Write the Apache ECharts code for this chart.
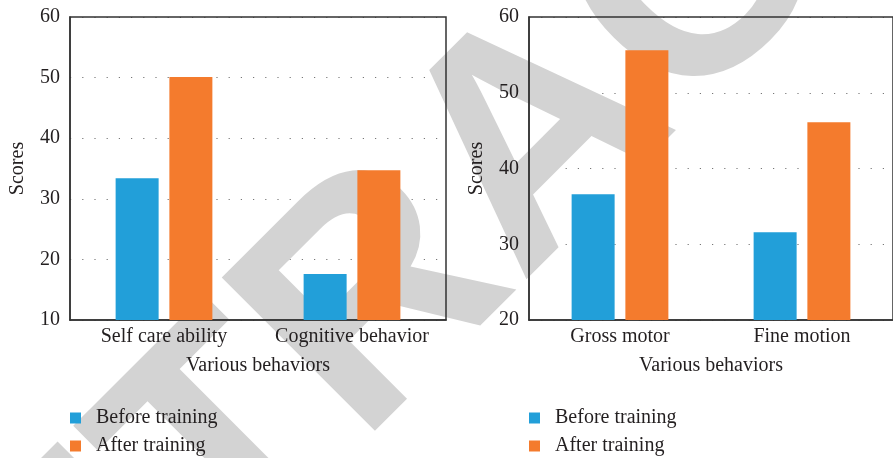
<!DOCTYPE html>
<html>
<head>
<meta charset="utf-8">
<script src="https://cdn.jsdelivr.net/npm/echarts@6/dist/echarts.min.js"></script>
<style>
  html, body { margin: 0; padding: 0; background: #fff; }
  #chart { width: 893px; height: 458px; }
</style>
</head>
<body>
<div id="chart"></div>
<script>
// values
const leftCategories = ['Self care ability', 'Cognitive behavior']
const leftBefore = [33.4, 17.6]
const leftAfter = [50.1, 34.7]

const rightCategories = ['Gross motor', 'Fine motion']
const rightBefore = [36.6, 31.6]
const rightAfter = [55.6, 46.1]

const seriesNames = ['Before training', 'After training']
const leftRange = [10, 60]
const rightRange = [20, 60]
const tickStep = 10

const blue = '#229fd9'
const orange = '#f47b2d'
const ink = '#231f20'
const font = '"Liberation Serif", "Times New Roman", serif'

const chart = echarts.init(document.getElementById('chart'), null, { renderer: 'canvas' })

function xAxisFor(gridIndex, data) {
  return {
    type: 'category',
    gridIndex,
    data,
    z: 2,
    name: 'Various behaviors',
    nameLocation: 'middle',
    nameGap: 36,
    nameTextStyle: { fontFamily: font, fontSize: 20, color: ink },
    axisLine: { lineStyle: { color: '#333', width: 1.5 } },
    axisTick: { show: false },
    axisLabel: { fontFamily: font, fontSize: 20, color: ink, margin: 7, interval: 0 },
    splitLine: { show: false }
  }
}

// dotted grid lines sit under the watermark
function gridLinesFor(gridIndex, range) {
  return {
    type: 'value',
    gridIndex,
    position: 'left',
    min: range[0],
    max: range[1],
    interval: tickStep,
    z: 0,
    axisLine: { show: false },
    axisTick: { show: false },
    axisLabel: { show: false },
    splitLine: {
      show: true,
      lineStyle: { color: '#777', width: 1.2, type: [1.2, 11] }
    }
  }
}

function yAxisFor(gridIndex, range) {
  return {
    type: 'value',
    gridIndex,
    position: 'left',
    min: range[0],
    max: range[1],
    interval: tickStep,
    z: 2,
    name: 'Scores',
    nameLocation: 'middle',
    nameGap: 42,
    nameTextStyle: { fontFamily: font, fontSize: 20, color: ink },
    axisLine: { show: true, lineStyle: { color: '#333', width: 1.5 } },
    axisTick: { show: false },
    axisLabel: { fontFamily: font, fontSize: 20, color: ink, margin: 10 },
    splitLine: { show: false }
  }
}

function barSeries(name, xIdx, yIdx, data, color) {
  return {
    name,
    type: 'bar',
    xAxisIndex: xIdx,
    yAxisIndex: yIdx,
    data,
    barWidth: 43,
    barGap: '25%',
    itemStyle: { color },
    z: 3
  }
}

function legendAt(left) {
  return {
    orient: 'vertical',
    left,
    top: 408,
    padding: 0,
    itemWidth: 11,
    itemHeight: 11,
    itemGap: 8,
    icon: 'rect',
    selectedMode: false,
    data: seriesNames,
    formatter: (n) => '  ' + n,
    textStyle: { fontFamily: font, fontSize: 20, lineHeight: 20, color: ink }
  }
}

chart.setOption({
  animation: false,
  backgroundColor: '#fff',
  graphic: [{
    type: 'text',
    z: 1,
    x: 540,
    y: 143,
    rotation: 0.785,
    silent: true,
    style: {
      text: 'RETRACTED',
      font: 'bold 315px "Liberation Sans", Arial, sans-serif',
      fill: '#d3d3d3',
      textAlign: 'center',
      textVerticalAlign: 'middle'
    }
  }],
  grid: [
    { left: 70, top: 17, width: 376, height: 303, z: 2, show: true, borderColor: '#333', borderWidth: 1.5, backgroundColor: 'transparent' },
    { left: 529, top: 17, width: 378, height: 303, z: 2, show: true, borderColor: '#333', borderWidth: 1.5, backgroundColor: 'transparent' }
  ],
  xAxis: [xAxisFor(0, leftCategories), xAxisFor(1, rightCategories)],
  yAxis: [
    yAxisFor(0, leftRange), yAxisFor(1, rightRange),
    gridLinesFor(0, leftRange), gridLinesFor(1, rightRange)
  ],
  legend: [legendAt(70), legendAt(529)],
  series: [
    barSeries(seriesNames[0], 0, 0, leftBefore, blue),
    barSeries(seriesNames[1], 0, 0, leftAfter, orange),
    barSeries(seriesNames[0], 1, 1, rightBefore, blue),
    barSeries(seriesNames[1], 1, 1, rightAfter, orange)
  ]
})
</script>
</body>
</html>
